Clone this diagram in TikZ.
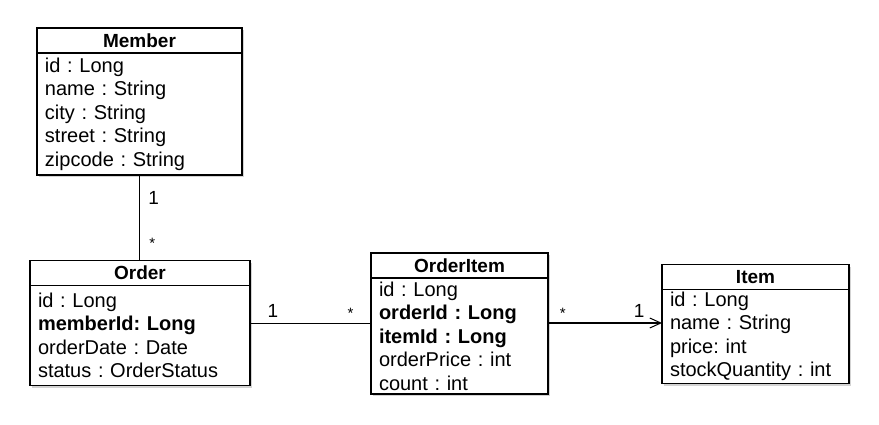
\documentclass[tikz,border=0pt]{standalone}
\usepackage{fontspec}
\setmainfont{Liberation Sans}
\usetikzlibrary{arrows.meta,positioning,shadows}
\frenchspacing

\begin{document}
\begin{tikzpicture}[%
    x=1pt, y=1pt,
    >={Straight Barb[length=11pt,width=10pt,line width=1pt]},
    node distance=0pt,
    head/.style={draw, fill=white, line width=1.4pt, outer sep=0pt, inner sep=0pt,
      font=\fontsize{19}{21}\selectfont\bfseries, minimum height=25pt,
      drop shadow={shadow xshift=2pt, shadow yshift=-2pt, opacity=0.35}},
    body/.style={draw, fill=white, line width=1.4pt, outer sep=0pt,
      inner xsep=8pt, inner ysep=0pt, align=left,
      font=\fontsize{20}{23.5}\selectfont,
      drop shadow={shadow xshift=2pt, shadow yshift=-2pt, opacity=0.35}},
    mult/.style={font=\fontsize{19}{20}\selectfont, anchor=base},
    star/.style={font=\fontsize{15}{16}\selectfont, anchor=base}
  ]
  \useasboundingbox (0,0) rectangle (879,-425);

  \node[head, minimum width=205pt] (member) at (139.5,-40.5) {Member};
  \node[body, text width=189pt, minimum height=122pt] (memberb) [below=of member]
    {id : Long\\ name : String\\ city : String\\ street : String\\ zipcode : String};

  \node[head, minimum width=220pt] (order) at (140,-273) {Order};
  \node[body, text width=204pt, minimum height=100pt] (orderb) [below=of order]
    {id : Long\\ \textbf{memberId: Long}\\ orderDate : Date\\ status : OrderStatus};

  \node[head, minimum width=177pt] (orderitem) at (459.5,-265.5) {OrderItem};
  \node[body, text width=161pt, minimum height=116pt] (orderitemb) [below=of orderitem]
    {id : Long\\ \textbf{orderId : Long}\\ \textbf{itemId : Long}\\ orderPrice : int\\ count : int};

  \node[head, minimum width=187pt] (item) at (755.5,-277) {Item};
  \node[body, text width=171pt, minimum height=94pt] (itemb) [below=of item]
    {id : Long\\ name : String\\ price: int\\ stockQuantity : int};

  \draw[line width=1.2pt] (memberb.south) -- (memberb.south |- order.north)
    node[mult, pos=0.35, anchor=base west, xshift=5pt] {1}
    node[star, pos=0.86, anchor=base west, xshift=6pt] {*};
  \draw[line width=1.2pt] ([yshift=12pt]orderb.east) -- ([yshift=12pt]orderb.east -| orderitemb.west)
    node[mult, pos=0.19, yshift=6pt] {1}
    node[star, pos=0.83, yshift=5pt] {*};
  \draw[line width=1.2pt, ->] ([yshift=13pt]orderitemb.east) -- ([yshift=13pt]orderitemb.east -| itemb.west)
    node[star, pos=0.13, yshift=5pt] {*}
    node[mult, pos=0.8, yshift=6pt] {1};

\end{tikzpicture}
\end{document}
